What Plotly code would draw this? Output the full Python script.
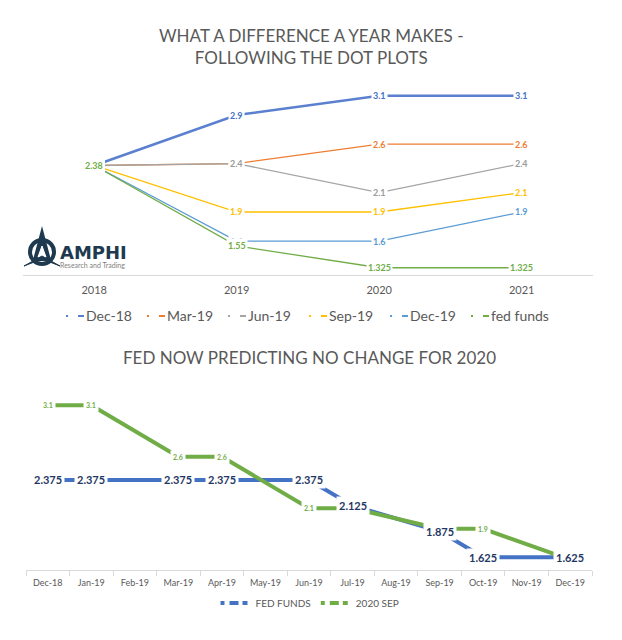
import plotly.graph_objects as go

# ---------- Top chart data ----------
years = ["2018", "2019", "2020", "2021"]
dec18 = [2.38, 2.9, 3.1, 3.1]
mar19 = [2.38, 2.4, 2.6, 2.6]
jun19 = [2.38, 2.4, 2.1, 2.4]
sep19 = [2.38, 1.9, 1.9, 2.1]
dec19 = [2.38, 1.6, 1.6, 1.9]
fed_funds_dots = [2.38, 1.55, 1.325, 1.325]

top_names = ["Dec-18", "Mar-19", "Jun-19", "Sep-19", "Dec-19", "fed funds"]
top_series = [dec18, mar19, jun19, sep19, dec19, fed_funds_dots]
top_colors = ["#5B80D0", "#ED7D31", "#A5A5A5", "#FFC000", "#5B9BD5", "#70AD47"]
top_label_colors = ["#4472C4", "#ED7D31", "#9A9A9A", "#FFC000", "#5B9BD5", "#70AD47"]
top_widths = [2.6, 1.3, 1.3, 1.3, 1.3, 1.3]

# ---------- Bottom chart data ----------
months = ["Dec-18", "Jan-19", "Feb-19", "Mar-19", "Apr-19", "May-19", "Jun-19",
          "Jul-19", "Aug-19", "Sep-19", "Oct-19", "Nov-19", "Dec-19"]
fed_funds = [2.375, 2.375, None, 2.375, 2.375, None, 2.375,
             2.125, None, 1.875, 1.625, None, 1.625]
sep_2020 = [3.1, 3.1, None, 2.6, 2.6, None, 2.1,
            2.1, None, 1.9, 1.9, None, 1.6]

FONT = "Lato"
GREY = "#595959"
W, H = 622, 640
OFF = 8  # page body margin


def px(x):
    return (x - OFF) / W


def py(y):
    return 1 - (y - OFF) / H


fig = go.Figure()

# top lines
for name, vals, col, w in zip(top_names, top_series, top_colors, top_widths):
    fig.add_trace(go.Scatter(x=years, y=vals, mode="lines", name=name,
                             line=dict(color=col, width=w),
                             showlegend=False, xaxis="x", yaxis="y",
                             hoverinfo="skip"))

# bottom lines
fig.add_trace(go.Scatter(x=months, y=fed_funds, mode="lines", name="FED FUNDS",
                         connectgaps=True, line=dict(color="#4472C4", width=4),
                         showlegend=False, xaxis="x2", yaxis="y2"))
fig.add_trace(go.Scatter(x=months, y=sep_2020, mode="lines", name="2020 SEP",
                         connectgaps=True, line=dict(color="#70AD47", width=4),
                         showlegend=False, xaxis="x2", yaxis="y2"))
fig.add_trace(go.Scatter(x=[None], y=[None], mode="lines", name="FED FUNDS",
                         line=dict(color="#4472C4", width=4, dash="4px,5px,9px"),
                         legend="legend2", xaxis="x2", yaxis="y2"))
fig.add_trace(go.Scatter(x=[None], y=[None], mode="lines", name="2020 SEP",
                         line=dict(color="#70AD47", width=4, dash="4px,5px,9px"),
                         legend="legend2", xaxis="x2", yaxis="y2"))

annotations = []
shapes = []
# top data labels (category index used for x)
for vals, col in zip(top_series, top_label_colors):
    for i, v in enumerate(vals):
        annotations.append(dict(x=i, y=v, xref="x", yref="y", text=f"<b>{v}</b>",
                                showarrow=False, bgcolor="white", borderpad=1,
                                font=dict(family=FONT, size=9, color=col)))
# bottom data labels: SEP first, FED FUNDS on top
for i, v in enumerate(sep_2020):
    if v is None:
        continue
    annotations.append(dict(x=i, y=v, xref="x2", yref="y2", text=f"<b>{v}</b>",
                            showarrow=False, bgcolor="white", borderpad=2,
                            font=dict(family=FONT, size=7, color="#70AD47")))
for i, v in enumerate(fed_funds):
    if v is None:
        continue
    annotations.append(dict(x=i, y=v, xref="x2", yref="y2", text=f"<b>{v}</b>",
                            showarrow=False, bgcolor="white", borderpad=2,
                            font=dict(family=FONT, size=11, color="#1F3864")))

# top legend (Excel-style compact keys)
for k, (name, col) in enumerate(zip(top_names, top_colors)):
    x0 = 67 + 81 * k
    shapes.append(dict(type="line", xref="paper", yref="paper",
                       x0=px(x0 - 1), x1=px(x0 + 1), y0=py(316), y1=py(316),
                       line=dict(color=col, width=2)))
    shapes.append(dict(type="line", xref="paper", yref="paper",
                       x0=px(x0 + 11), x1=px(x0 + 17), y0=py(316), y1=py(316),
                       line=dict(color=col, width=2)))
    annotations.append(dict(x=px(x0 + 17), y=py(315), xref="paper", yref="paper",
                            xanchor="left", yanchor="middle", text=name,
                            showarrow=False,
                            font=dict(family=FONT, size=14, color=GREY)))

# titles
annotations.append(dict(x=px(311), y=py(47), xref="paper", yref="paper",
                        xanchor="center", yanchor="middle",
                        text="WHAT A DIFFERENCE A YEAR MAKES -<br>FOLLOWING THE DOT PLOTS",
                        showarrow=False, align="center",
                        font=dict(family=FONT, size=17, color=GREY)))
annotations.append(dict(x=px(309), y=py(357), xref="paper", yref="paper",
                        xanchor="center", yanchor="middle",
                        text="FED NOW PREDICTING NO CHANGE FOR 2020",
                        showarrow=False, font=dict(family=FONT, size=17, color=GREY)))
# logo text
annotations.append(dict(x=px(58), y=py(252), xref="paper", yref="paper",
                        xanchor="left", yanchor="middle", text="<b>AMPHI</b>",
                        showarrow=False,
                        font=dict(family="DejaVu Sans", size=18, color="#1F3A4F")))
annotations.append(dict(x=px(58), y=py(265), xref="paper", yref="paper",
                        xanchor="left", yanchor="middle", text="Research and Trading",
                        showarrow=False,
                        font=dict(family=FONT, size=7, color="#7F7F7F")))

shapes += [
    dict(type="circle", xref="paper", yref="paper",
         x0=px(30), x1=px(54), y0=py(264), y1=py(240),
         line=dict(color="#1F3A4F", width=4), fillcolor="white"),
    dict(type="path", xref="paper", yref="paper",
         path=f"M {px(42)} {py(230)} L {px(34)} {py(260)} L {px(50)} {py(260)} Z",
         line=dict(color="#1F3A4F", width=2), fillcolor="#1F3A4F"),
    dict(type="path", xref="paper", yref="paper",
         path=f"M {px(42)} {py(246)} L {px(38)} {py(257)} L {px(46)} {py(257)} Z",
         line=dict(color="white", width=1), fillcolor="white"),
    dict(type="path", xref="paper", yref="paper",
         path=f"M {px(24)} {py(266)} L {px(42)} {py(256)} L {px(60)} {py(266)} L {px(42)} {py(259)} Z",
         line=dict(color="#1F3A4F", width=1), fillcolor="#1F3A4F"),
]

fig.update_layout(
    width=W, height=H,
    margin=dict(l=0, r=0, t=0, b=0),
    paper_bgcolor="white", plot_bgcolor="white",
    font=dict(family=FONT, color=GREY),
    annotations=annotations,
    shapes=shapes,
    xaxis=dict(domain=[px(23), px(593)], anchor="y", type="category",
               showgrid=False, showline=True, linecolor="#D9D9D9", linewidth=1,
               ticks="", ticklabelstandoff=5,
               tickfont=dict(family=FONT, size=11, color=GREY),
               range=[-0.5, 3.5]),
    yaxis=dict(domain=[py(275), py(86)], anchor="x",
               range=[1.25, 3.2], visible=False, showgrid=False),
    xaxis2=dict(domain=[px(26), px(592)], anchor="y2", type="category",
                showgrid=False, showline=True, linecolor="#D9D9D9", linewidth=1,
                ticks="outside", tickson="boundaries", ticklen=5, tickcolor="#D9D9D9",
                ticklabelstandoff=4,
                tickfont=dict(family=FONT, size=9, color=GREY),
                range=[-0.5, 12.5]),
    yaxis2=dict(domain=[py(570), py(395)], anchor="x2",
                range=[1.5, 3.2], visible=False, showgrid=False),
    legend2=dict(orientation="h", x=px(310), xanchor="center", y=py(603),
                 yanchor="middle", font=dict(family=FONT, size=10, color=GREY),
                 itemwidth=30, bgcolor="rgba(0,0,0,0)"),
)

fig.write_html("out.html")
